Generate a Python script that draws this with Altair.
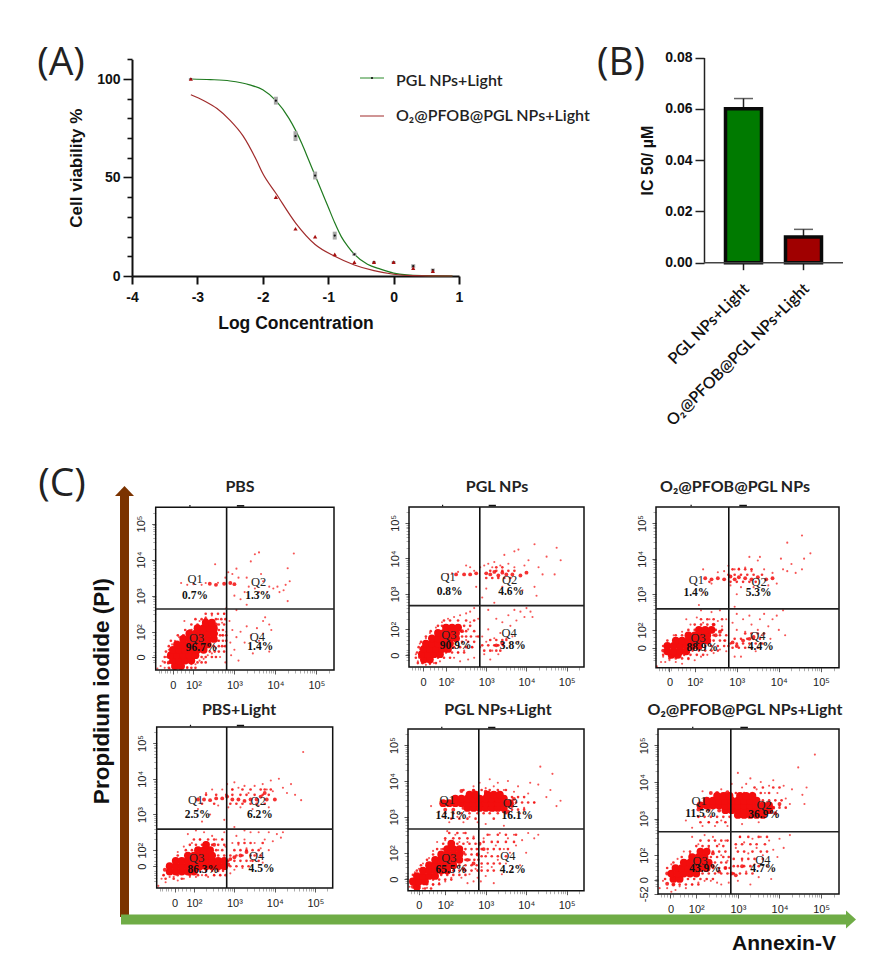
import altair as alt
import pandas as pd

W, H = 864, 955
def px(v): return v - 8

# ---------- Panel A ----------
LOG_X = [-3.1, -1.8, -1.5, -1.2, -0.9, -0.6, -0.3, 0.0, 0.3, 0.6]
GREEN_Y = [100, 89, 71, 51, 20.5, 11, 7, 7, 5, 3]
GREEN_ERR = [0.5, 2, 2.5, 2, 2, 0.8, 0.5, 0.5, 1, 0.8]
RED_Y = [100, 40, 24, 20, 11, 7, 7, 7, 4, 2.5]
GREEN_CURVE_X = [-3.1, -2.8, -2.5, -2.2, -2.0, -1.8, -1.6, -1.4, -1.3, -1.2, -1.1, -1.0, -0.9, -0.8, -0.7, -0.6, -0.4, -0.2, 0.0, 0.2, 0.5, 0.9]
GREEN_CURVE_Y = [100, 99.7, 99, 97, 94.5, 89, 80, 67, 59, 51, 43, 35, 27, 20, 15, 11, 6, 3.5, 1.5, 0.6, 0.2, 0]
RED_CURVE_X = [-3.1, -2.9, -2.7, -2.5, -2.3, -2.1, -2.0, -1.8, -1.5, -1.2, -0.9, -0.6, -0.3, 0.0, 0.3, 0.9]
RED_CURVE_Y = [92, 89, 85, 79, 71, 59, 52, 42, 27, 16, 10, 5.6, 2.7, 0.9, 0.2, 0]

# ---------- Panel B ----------
IC_CATS = ["PGL NPs+Light", "O₂@PFOB@PGL NPs+Light"]
IC_VALS = [0.06, 0.01]
IC_ERR = [0.064, 0.013]
IC_COLORS = ["#007a00", "#a00000"]

# ---------- Panel C ----------
TITLES = ["PBS", "PGL NPs", "O₂@PFOB@PGL NPs", "PBS+Light", "PGL NPs+Light", "O₂@PFOB@PGL NPs+Light"]
PCT = [["0.7%", "1.3%", "96.7%", "1.4%"], ["0.8%", "4.6%", "90.9%", "3.8%"], ["1.4%", "5.3%", "88.9%", "4.4%"],
       ["2.5%", "6.2%", "86.3%", "4.5%"], ["14.1%", "16.1%", "65.5%", "4.2%"], ["11.5%", "36.9%", "43.9%", "4.7%"]]
Q_NAMES = ["Q1", "Q2", "Q3", "Q4"]
Q_POS = [[(2.04, 3.46), (3.59, 3.37), (2.08, 1.83), (3.56, 1.86)], [(2.05, 3.48), (3.58, 3.40), (2.07, 1.85), (3.57, 1.90)],
         [(2.04, 3.40), (3.53, 3.35), (2.08, 1.78), (3.50, 1.84)], [(2.04, 3.41), (3.59, 3.39), (2.07, 1.78), (3.55, 1.85)],
         [(2.05, 3.47), (3.61, 3.40), (2.09, 1.84), (3.55, 1.91)], [(2.07, 3.47), (3.63, 3.38), (2.09, 1.85), (3.60, 1.88)]]
PCT_POS = [[(2.04, 3.00), (3.58, 3.00), (2.20, 1.56), (3.63, 1.58)], [(2.09, 3.05), (3.62, 3.05), (2.24, 1.52), (3.66, 1.52)],
           [(2.04, 3.04), (3.52, 3.04), (2.18, 1.50), (3.57, 1.53)], [(2.09, 2.98), (3.63, 2.98), (2.23, 1.45), (3.67, 1.47)],
           [(2.15, 3.03), (3.78, 3.03), (2.15, 1.52), (3.67, 1.52)], [(2.11, 3.13), (3.63, 3.11), (2.21, 1.62), (3.61, 1.63)]]
GATE_X = [2.81, 2.84, 2.81, 2.81, 2.83, 2.83]
GATE_Y = [2.63, 2.67, 2.59, 2.59, 2.66, 2.64]
ZERO_X = [1.50, 1.43, 1.40, 1.52, 1.35, 1.38]
ZERO_Y = [1.30, 1.27, 1.50, 1.55, 1.26, 1.33]
LOW_TICK = 0.945
MINOR_TICKS = [1.15, 1.22, 1.3, 1.36, 1.43, 1.6, 1.7, 1.8, 1.9, 2.3, 2.48, 2.6, 2.7, 2.78, 2.85, 2.9, 2.95,
               3.3, 3.48, 3.6, 3.7, 3.78, 3.85, 3.9, 3.95, 4.3, 4.48, 4.6, 4.7, 4.78, 4.85, 4.9, 4.95, 5.3]
TOP_MARK_START = [1.9, 3.06]
TOP_MARK_END = [1.93, 3.24]

# dense regions, row by row: (y, [x, x, ...])
CORE_ROWS = [
 [(1.05,[1.55,1.7]),(1.2,[1.5,1.65,1.8,1.95]),(1.35,[1.45,1.6,1.75,1.9,2.05]),(1.5,[1.5,1.65,1.8,1.95,2.1,2.25]),(1.65,[1.6,1.75,1.9,2.05,2.2,2.35]),(1.8,[1.75,1.9,2.05,2.2,2.35,2.5]),(1.95,[1.9,2.05,2.2,2.35,2.5]),(2.1,[2.1,2.25,2.4,2.5]),(2.25,[2.3,2.45])],
 [(1.15,[1.45,1.6]),(1.3,[1.4,1.55,1.7,1.85]),(1.45,[1.45,1.6,1.75,1.9,2.05]),(1.6,[1.5,1.65,1.8,1.95,2.1]),(1.75,[1.65,1.8,1.95,2.1,2.25]),(1.9,[1.8,1.95,2.1,2.25]),(2.05,[2.0,2.15,2.3])],
 [(1.3,[1.45,1.6]),(1.4,[1.35,1.5,1.65,1.8]),(1.55,[1.35,1.5,1.65,1.8,1.95,2.1]),(1.7,[1.55,1.7,1.85,2.0,2.15,2.3]),(1.85,[1.85,2.0,2.15,2.3]),(2.0,[2.1,2.25,2.4])],
 [(1.4,[1.4,1.55,1.7,1.85,2.0]),(1.55,[1.4,1.55,1.7,1.85,2.0,2.15,2.3,2.45,2.6,2.75]),(1.7,[1.55,1.7,1.85,2.0,2.15,2.3,2.45,2.6,2.75]),(1.85,[1.85,2.0,2.15,2.3,2.45]),(2.0,[2.1,2.25,2.4]),(2.15,[2.3])],
 [(1.05,[1.3]),(1.2,[1.2,1.35,1.5]),(1.35,[1.3,1.45,1.6,1.75]),(1.5,[1.45,1.6,1.75,1.9,2.05]),(1.65,[1.6,1.75,1.9,2.05,2.2]),(1.8,[1.75,1.9,2.05,2.2,2.35]),(1.95,[1.9,2.05,2.2,2.35]),(2.1,[2.05,2.2,2.35]),(2.25,[2.15]),
  (3.25,[2.55,2.7,2.85,3.0,3.15,3.3,3.45]),(3.38,[1.95,2.1,2.25,2.4,2.55,2.7,2.85,3.0,3.15,3.3,3.45,3.6]),(3.51,[2.25,2.4,2.55,2.7,2.85,3.0,3.15,3.3,3.45]),(3.62,[2.6,2.75,3.05,3.2,3.35])],
 [(1.35,[1.45,1.6]),(1.5,[1.4,1.55,1.7,1.85,2.0]),(1.65,[1.5,1.65,1.8,1.95,2.1,2.25]),(1.8,[1.7,1.85,2.0,2.15,2.3]),(1.95,[1.9,2.05,2.2]),(2.1,[2.1,2.25]),
  (3.1,[3.0,3.15,3.3,3.45,3.6]),(3.23,[2.7,2.85,3.0,3.15,3.3,3.45,3.6,3.75]),(3.36,[2.1,2.25,2.4,2.55,2.7,2.85,3.0,3.15,3.3,3.45,3.6,3.75]),(3.49,[2.25,2.4,2.55,2.7,2.85,3.0,3.15,3.3,3.45]),(3.62,[2.5,2.65,2.8,3.05,3.2,3.35])],
]
# medium-density halo around the dense regions, row by row
FILL_ROWS = [
 [(1.0,[1.4,1.5,1.85,1.95,2.05]),(1.15,[1.3,1.42,2.1,2.2,2.3]),(1.3,[1.3,2.2,2.3,2.45,2.55]),(1.45,[1.33,2.4,2.52,2.62,2.75]),(1.6,[1.4,2.5,2.62,2.7,2.78]),(1.75,[1.45,2.62,2.72,2.8]),(1.9,[1.62,1.75,2.65,2.72,2.8]),(2.05,[1.8,1.95,2.62,2.72]),(2.2,[1.95,2.1,2.62,2.75]),(2.35,[2.05,2.2,2.55,2.68,2.78]),(2.5,[2.3,2.45,2.6,2.75])],
 [(1.05,[1.3,1.42,1.6,1.75]),(1.2,[1.25,1.8,1.95,2.1]),(1.35,[1.28,2.0,2.15,2.3,2.45]),(1.5,[1.32,2.2,2.35,2.5,2.65]),(1.65,[1.38,2.25,2.4,2.55,2.7]),(1.8,[1.5,2.4,2.5,2.62,2.8]),(1.95,[1.62,2.38,2.5,2.7]),(2.1,[1.8,1.9,2.45,2.6]),(2.25,[1.95,2.1,2.3,2.5,2.7]),(1.4,[2.95,3.1,3.25,3.35]),(1.55,[2.9,3.05,3.2,3.3,3.42]),(1.7,[3.1,3.25,3.4,3.5]),(3.45,[3.0,3.15,3.3,3.45,3.6]),(3.65,[3.1,3.25,3.4,3.55,3.7]),(3.75,[3.25,3.4])],
 [(1.2,[1.4,1.55,1.7,1.85]),(1.3,[1.25,1.75,1.9,2.05,2.2]),(1.42,[1.95,2.1,2.25,2.4,2.55]),(1.55,[1.25,2.25,2.4,2.55,2.7,2.8]),(1.7,[1.35,2.45,2.6,2.72]),(1.85,[1.55,1.7,2.45,2.6,2.75]),(2.0,[1.85,2.0,2.5,2.65]),(2.15,[2.0,2.15,2.3,2.45]),(2.3,[2.15,2.3,2.45,2.65]),(1.5,[2.9,3.05,3.2,3.35,3.5]),(1.62,[2.85,3.0,3.15,3.3,3.45,3.6]),(1.75,[2.95,3.1,3.25,3.4,3.55]),(1.9,[3.2,3.35,3.5,3.65]),(3.35,[2.35,2.85,3.0,3.15,3.3,3.45]),(3.55,[2.8,2.95,3.1,3.25,3.4,3.6]),(3.7,[2.9,3.05,3.2,3.35])],
 [(1.2,[1.3,1.5,1.7]),(1.3,[1.25,1.6,1.9,2.1,2.3,2.5,2.65,2.78]),(1.42,[2.15,2.3,2.45,2.6,2.72]),(1.85,[1.6,2.6,2.75]),(2.0,[1.8,1.95,2.55,2.7]),(2.15,[1.9,2.05,2.2,2.45,2.6,2.75]),(2.3,[2.0,2.15,2.35,2.5,2.7]),(1.55,[2.9,3.05,3.2,3.35]),(1.7,[2.85,3.0,3.15,3.3,3.45,3.6]),(1.85,[2.9,3.05,3.2,3.4,3.5,3.65]),(2.0,[3.0,3.15,3.3,3.45,3.6]),(2.2,[3.1,3.25,3.4,3.7]),(3.3,[2.2,2.5,2.9,3.05,3.2,3.4,3.55,3.75]),(3.55,[2.3,2.55,2.8,2.95,3.15,3.3,3.5,3.7,3.85]),(3.7,[2.95,3.2,3.4,3.65,3.75,3.9])],
 [(1.0,[1.35,1.5,1.65]),(1.12,[1.55,1.7,1.85]),(1.25,[1.7,1.85,2.0,2.15]),(1.38,[1.2,1.9,2.05,2.2,2.35,2.5]),(1.5,[1.3,2.2,2.35,2.5,2.65,2.8]),(1.65,[1.4,2.35,2.5,2.65,2.78]),(1.8,[1.55,2.5,2.6,2.72,2.82]),(1.95,[1.7,2.5,2.65,2.8]),(2.1,[1.8,1.95,2.5,2.65,2.78]),(2.25,[1.95,2.3,2.45,2.6,2.75]),(2.4,[2.0,2.2,2.35,2.55,2.7]),(2.55,[2.1,2.3,2.5]),
  (1.5,[2.9,3.05,3.2]),(1.7,[2.9,3.05,3.2,3.35]),(1.9,[2.9,3.0,3.15,3.3,3.5]),(2.1,[2.9,3.05,3.2,3.35,3.55]),(2.3,[2.95,3.15,3.3,3.5,3.7]),(2.5,[3.05,3.3,3.5,3.75]),(3.1,[2.0,2.2,2.4,2.6,2.8,2.95,3.1,3.3,3.5]),(2.95,[2.15,2.35,2.55,2.75,3.2]),(3.75,[2.45,2.7,2.9,3.1,3.3,3.5]),(3.4,[3.75,3.9,4.05,4.2]),(3.55,[3.65,3.8,3.95]),(3.2,[3.65,3.8,3.95])],
 [(1.2,[1.45,1.6,1.75,1.9,2.05]),(1.35,[1.25,1.8,1.95,2.1,2.25,2.4]),(1.5,[2.15,2.3,2.45,2.6,2.75]),(1.65,[1.3,2.4,2.55,2.7,2.8]),(1.8,[1.45,2.45,2.6,2.72]),(1.95,[1.65,2.35,2.5,2.65,2.78]),(2.1,[1.85,2.4,2.55,2.7]),(2.25,[2.0,2.15,2.3,2.5,2.65]),(2.4,[2.1,2.3,2.45,2.6,2.75]),
  (1.5,[2.9,3.05,3.2,3.35]),(1.7,[2.9,3.0,3.15,3.3,3.5]),(1.9,[2.9,3.1,3.25,3.4,3.6]),(2.1,[3.0,3.15,3.35,3.55,3.7]),(2.3,[2.95,3.1,3.3,3.45,3.65]),(2.5,[3.05,3.25,3.5,3.7]),(3.05,[2.05,2.2,2.35,2.5,2.65,2.8,3.1,3.3]),(2.9,[2.1,2.3,2.5,2.7]),(3.7,[2.7,2.95,3.15,3.35,3.55,3.75]),(3.5,[3.6,3.75,3.9,4.05]),(3.3,[3.85,4.0,4.15]),(3.85,[3.4,3.6,3.85,4.0])],
]
MID = [
 [(2.4,3.33),(2.55,3.3),(2.75,3.33),(2.9,3.35),(3.0,3.32),(1.4,1.3),(1.4,1.15),(2.55,1.95),(2.55,2.2),(2.3,2.35)],
 [(2.25,3.55),(2.45,3.55),(2.6,3.55),(2.75,3.58),(3.0,3.58),(3.1,3.55),(3.2,3.62),(3.3,3.52),(3.4,3.6),(3.5,3.55),(3.65,3.55),(3.85,3.52),(4.0,3.6),(1.35,1.22),(1.38,1.45),(2.4,1.95),(3.25,1.55),(3.4,1.6)],
 [(2.25,3.45),(2.4,3.42),(2.55,3.45),(2.7,3.42),(2.85,3.5),(2.95,3.42),(3.05,3.48),(3.2,3.45),(3.35,3.42),(3.5,3.48),(3.7,3.42),(3.85,3.45),(2.9,1.65),(3.0,1.55),(3.15,1.7),(3.3,1.75),(3.4,1.8),(2.5,1.85),(2.6,1.95),(1.25,1.42),(2.45,2.15)],
 [(2.1,3.42),(2.25,3.42),(2.4,3.4),(2.55,3.45),(2.7,3.45),(2.82,3.5),(2.95,3.42),(3.1,3.42),(3.25,3.38),(3.4,3.42),(3.55,3.42),(3.65,3.5),(3.75,3.6),(3.8,3.42),(4.0,3.42),(2.9,1.75),(3.0,1.8),(3.15,1.85),(3.3,1.95),(1.28,1.45),(2.85,1.6),(2.5,2.15),(2.3,2.2)],
 [(1.2,1.05),(1.3,1.0),(2.45,2.0),(2.55,1.8),(2.7,1.7),(2.8,1.95),(2.45,1.55),(2.85,2.25),(2.95,2.1),(3.65,3.3),(3.7,3.5),(3.2,3.2),(3.45,3.15),(3.55,3.15),(2.0,3.2),(2.2,3.2),(2.45,3.25),(2.6,3.25),(2.75,3.25),(3.0,3.7),(2.4,3.72),(2.7,3.72)],
 [(1.3,1.22),(1.45,1.2),(1.3,1.5),(2.4,1.7),(2.4,2.05),(2.55,1.55),(2.7,1.65),(2.85,1.5),(2.95,1.45),(3.1,1.7),(3.85,3.3),(3.9,3.15),(4.0,3.4),(2.05,3.25),(2.3,3.25),(2.55,3.22),(2.75,3.2),(2.95,3.1),(3.55,3.12),(2.5,3.7),(2.75,3.72),(2.35,3.7),(3.2,3.62)],
]
SPARSE = [
 [(1.12,0.98),(1.2,1.05),(1.25,1.18),(1.3,1.0),(1.35,1.3),(1.38,1.12),(1.4,1.5),(1.42,0.98),(1.48,1.65),(1.5,1.02),(1.55,1.75),(1.62,0.98),(1.65,1.85),(1.7,1.0),(1.78,1.9),(1.78,2.3),(1.85,1.02),(1.9,2.05),(1.95,1.1),(2.05,2.15),(2.05,1.1),(2.15,2.3),(2.15,1.2),(2.25,1.25),(2.3,2.4),(2.35,1.35),(2.45,2.45),(2.45,1.4),(2.55,2.1),(2.55,1.55),(2.6,1.75),(2.6,2.35),(2.65,1.3),(2.7,1.9),(2.7,2.25),(2.75,1.6),(2.75,2.5),(2.78,1.15),(2.8,2.0),(2.8,2.65),
  (2.88,2.3),(2.9,1.7),(2.92,1.35),(2.95,2.05),(3.0,1.5),(3.05,1.85),(3.1,1.2),(3.15,2.0),(3.25,1.7),(3.3,2.15),(3.4,1.9),(3.45,1.4),(3.55,2.1),(3.6,1.75),(3.7,2.3),(3.7,1.95),(3.75,2.4),(3.85,1.45),(3.85,2.2),(3.9,2.05),(3.05,2.6),(3.3,2.75),
  (1.7,3.35),(1.85,3.3),(2.0,3.32),(2.2,3.3),(2.3,3.35),(2.6,3.36),(2.78,3.5),(2.85,3.65),(2.95,3.6),(3.05,3.75),(3.1,3.5),(3.25,3.1),(3.3,3.5),(3.4,3.95),(3.5,4.15),(3.6,4.2),(3.65,3.6),(3.7,3.4),(3.8,3.1),(3.85,3.25),(3.95,3.2),(4.05,3.25),(4.1,3.1),(4.2,3.15),(4.25,3.3),(4.3,2.85),(4.35,3.4),(3.0,3.0),(3.15,2.9),(3.5,3.2),(3.6,3.1),(3.35,3.25),(2.53,3.87),(4.3,3.76),(4.45,4.17)],
 [(1.3,1.1),(1.25,1.3),(1.4,1.05),(1.5,1.0),(1.6,1.02),(1.7,1.05),(1.85,1.1),(1.35,1.6),(1.5,1.75),(1.6,1.9),(1.75,2.05),(1.9,2.2),(2.05,2.3),(2.2,2.35),(2.35,2.4),(2.5,2.45),(2.6,2.5),(2.7,2.6),(2.2,1.2),(2.3,1.35),(2.45,1.4),(2.5,1.7),(2.55,2.0),(2.6,2.2),(2.65,1.5),(2.7,1.2),(2.75,1.8),(2.8,2.3),(2.35,1.1),(2.55,1.15),
  (2.85,1.5),(2.9,1.8),(2.95,1.3),(3.0,1.65),(3.05,2.0),(3.1,1.15),(3.15,1.4),(3.2,1.75),(3.25,2.3),(3.3,1.3),(3.35,1.9),(3.4,2.2),(3.5,1.75),(3.55,2.4),(3.6,2.1),(3.65,1.8),(3.7,2.55),(3.75,2.25),(3.8,1.65),(3.85,2.5),(3.95,2.35),(4.0,2.6),(4.1,2.5),(4.15,2.35),(3.05,2.55),(3.2,2.75),
  (2.05,3.55),(2.15,3.58),(2.3,3.62),(2.5,3.8),(2.6,3.75),(2.7,3.65),(2.75,3.2),(2.85,3.75),(2.95,3.8),(3.05,3.85),(3.15,3.75),(3.2,3.9),(3.35,3.8),(3.45,4.1),(3.55,3.85),(3.7,3.75),(3.7,4.2),(3.8,4.25),(3.95,3.8),(4.05,3.95),(4.2,4.4),(4.3,3.75),(4.4,3.55),(4.5,4.05),(4.75,4.3),(4.85,3.95),(4.2,3.2),(4.25,2.95),(3.9,3.1),(3.4,3.2),(3.0,3.15),(4.7,3.55),(2.9,2.9)],
 [(1.1,0.98),(1.2,1.1),(1.25,1.25),(1.3,1.1),(1.4,1.15),(1.55,1.1),(1.7,1.05),(1.85,1.18),(2.0,1.15),(2.15,1.25),(2.3,1.3),(2.45,1.35),(1.5,1.85),(1.7,1.95),(1.8,2.3),(1.9,2.15),(2.05,2.35),(2.15,2.55),(2.2,2.2),(2.35,2.3),(2.4,2.5),(2.55,2.25),(2.6,2.55),(2.65,2.1),(2.7,1.7),(2.75,1.4),(2.75,2.3),(2.6,1.45),
  (2.9,2.2),(2.95,1.25),(3.0,2.0),(3.1,1.25),(3.15,2.3),(3.2,1.95),(3.3,2.4),(3.35,2.15),(3.45,1.4),(3.5,2.0),(3.55,2.3),(3.6,1.85),(3.65,2.45),(3.75,2.1),(3.8,1.75),(3.85,2.3),(3.95,2.4),(4.0,2.0),(4.1,2.55),(4.15,1.85),(3.0,2.45),(2.95,2.65),
  (2.2,3.7),(2.4,3.3),(2.55,3.62),(2.7,3.65),(2.8,3.8),(2.85,3.25),(2.95,3.7),(3.05,3.72),(3.1,3.2),(3.2,3.75),(3.35,3.65),(3.4,3.2),(3.5,3.95),(3.55,4.05),(3.65,3.7),(3.75,3.25),(3.85,3.6),(3.95,3.3),(4.05,4.0),(4.1,3.7),(4.2,3.65),(4.3,3.85),(4.4,3.6),(4.55,3.7),(4.6,4.0),(4.75,4.15),(4.55,4.65),(4.2,4.45),(3.3,4.05),(3.0,3.0),(2.2,3.05),(2.1,2.7)],
 [(1.12,1.0),(1.2,1.2),(1.25,1.3),(1.3,1.1),(1.4,1.25),(1.5,1.25),(1.6,1.15),(1.75,1.2),(1.9,1.25),(2.05,1.25),(2.2,1.3),(2.35,1.25),(2.5,1.3),(2.65,1.3),(1.6,1.95),(1.75,2.1),(1.85,2.45),(1.95,2.2),(2.05,2.55),(2.15,2.3),(2.25,2.5),(2.35,2.2),(2.45,2.4),(2.55,2.3),(2.6,2.0),(2.7,2.3),(2.75,2.5),(2.78,2.1),
  (2.9,1.35),(2.95,2.2),(3.0,1.45),(3.05,2.4),(3.1,2.15),(3.2,1.5),(3.25,2.3),(3.3,2.05),(3.4,2.5),(3.4,1.7),(3.5,2.2),(3.55,1.9),(3.6,2.5),(3.65,2.05),(3.7,1.65),(3.75,2.3),(3.85,2.5),(3.85,2.0),(3.95,2.25),(4.05,2.45),(4.15,2.35),(4.2,2.5),(3.0,2.65),(3.25,2.55),
  (2.1,3.15),(2.3,3.6),(2.45,3.7),(2.6,3.25),(2.7,3.7),(2.82,3.85),(2.85,3.2),(2.95,3.7),(3.0,3.9),(3.1,3.75),(3.15,3.2),(3.25,3.8),(3.35,3.6),(3.45,3.15),(3.5,3.8),(3.6,3.25),(3.7,3.85),(3.8,3.7),(3.85,3.2),(3.9,3.95),(3.95,3.65),(4.1,4.0),(4.2,3.75),(4.3,3.6),(4.4,3.85),(4.5,3.55),(4.65,3.4),(4.7,4.75),(2.4,3.0),(2.75,2.85),(2.2,2.8)],
 [(1.12,1.05),(1.15,1.25),(1.25,1.45),(1.35,1.55),(1.45,1.0),(1.55,1.02),(1.7,1.1),(1.85,1.15),(2.0,1.2),(2.15,1.3),(1.45,1.7),(1.6,1.85),(1.7,2.05),(1.8,2.3),(1.9,2.1),(2.0,2.35),(2.05,2.6),(2.15,2.25),(2.25,2.5),(2.35,2.3),(2.45,2.55),(2.55,2.3),(2.6,1.4),(2.7,1.2),(2.7,2.45),(2.75,1.55),(2.8,2.1),(2.8,1.3),(2.55,1.15),(2.4,1.3),
  (2.88,1.2),(2.9,1.6),(2.95,2.4),(3.0,1.35),(3.05,2.0),(3.1,2.5),(3.15,1.6),(3.2,1.15),(3.25,2.2),(3.3,1.8),(3.35,2.55),(3.4,1.4),(3.45,2.1),(3.5,1.7),(3.55,2.4),(3.6,2.0),(3.65,1.55),(3.7,2.5),(3.75,2.2),(3.85,1.65),(3.9,2.35),(4.0,2.0),(4.05,2.55),(4.2,2.4),(4.3,2.5),(3.0,2.8),(3.45,2.75),
  (1.65,3.3),(1.85,3.15),(1.95,3.0),(2.1,2.85),(2.3,3.0),(2.45,2.85),(2.6,3.0),(2.8,2.85),(2.7,3.85),(2.85,3.95),(3.0,3.8),(3.1,4.05),(3.2,3.85),(3.3,3.95),(3.45,3.75),(3.55,4.0),(3.7,3.7),(3.8,3.85),(3.85,3.1),(3.95,3.25),(4.05,3.65),(4.1,3.95),(4.2,3.4),(4.3,3.9),(4.35,4.4),(4.5,3.55),(4.6,3.75),(4.65,4.2),(4.75,3.3),(4.85,3.45)],
 [(1.12,1.1),(1.2,1.3),(1.3,1.1),(1.4,1.0),(1.5,1.05),(1.6,1.15),(1.75,1.1),(1.9,1.2),(2.05,1.25),(2.2,1.3),(2.35,1.3),(2.5,1.25),(1.4,1.75),(1.55,1.9),(1.7,2.1),(1.85,2.05),(1.9,2.5),(2.05,2.3),(2.2,2.55),(2.3,2.2),(2.4,2.5),(2.55,2.3),(2.6,2.0),(2.7,2.4),(2.75,1.85),(2.78,1.25),(2.6,1.2),
  (2.9,1.5),(2.95,2.2),(3.0,1.3),(3.05,2.5),(3.1,1.85),(3.15,2.35),(3.2,1.55),(3.25,2.05),(3.3,1.2),(3.35,2.45),(3.4,1.75),(3.45,2.2),(3.5,1.4),(3.55,2.5),(3.6,2.0),(3.7,1.7),(3.75,2.4),(3.8,1.35),(3.85,2.15),(3.95,1.95),(4.0,2.45),(4.1,2.2),(4.25,2.55),(3.1,2.85),(3.5,2.9),
  (1.75,2.95),(1.9,2.75),(2.05,3.05),(2.15,2.8),(2.3,2.9),(2.45,2.8),(2.6,2.95),(2.75,2.8),(2.15,3.75),(2.6,3.8),(2.85,3.95),(3.0,4.25),(3.1,3.85),(3.2,3.95),(3.3,4.1),(3.45,3.8),(3.55,4.0),(3.65,3.7),(3.75,3.9),(3.85,4.05),(3.95,3.7),(4.0,3.35),(4.1,3.9),(4.15,3.55),(4.25,3.4),(4.3,3.8),(4.45,4.4),(4.55,3.65),(4.65,3.85),(4.85,4.75),(4.6,3.4)],
]
# frame of each cytometry plot in page pixels: left, right, top, bottom
FRAMES = [(155.7, 334, 507.3, 670), (409, 584, 507, 667), (656, 839, 507, 667.7),
          (156.7, 332.7, 727, 888), (408, 584, 729, 890.7), (658, 839, 729, 894)]
TITLE_POS = [(240, 487), (497, 487), (735, 487), (239, 710), (498, 710), (745, 710)]
XMIN, XMAX, YMIN, YMAX = 1.08, 5.43, 0.94, 5.45
RED = "#f30d0d"
TXT = "Liberation Sans"
CAL = "Lato"


def xy(rows):
    return pd.DataFrame(rows, columns=["x", "y"])


def expand(rows):
    return [(x, y) for y, xs in rows for x in xs]


def flow_panel(i):
    left, right, top, bottom = FRAMES[i]
    sx = alt.Scale(domain=[XMIN, XMAX], range=[px(left), px(right)], nice=False, zero=False)
    sy = alt.Scale(domain=[YMIN, YMAX], range=[px(bottom), px(top)], nice=False, zero=False)
    X = lambda f="x": alt.X(f"{f}:Q", scale=sx, axis=None)
    Y = lambda f="y": alt.Y(f"{f}:Q", scale=sy, axis=None)
    layers = []
    zx, zy = ZERO_X[i], ZERO_Y[i]
    xmaj = [zx, 2, 3, 4, 5]
    ymaj = [zy, 2, 3, 4, 5]
    low_vals = [LOW_TICK] if i == 5 else []
    x_expr = f"datum.value=={zx}?'0':datum.value==2?'10²':datum.value==3?'10³':datum.value==4?'10⁴':datum.value==5?'10⁵':''"
    y_expr = f"datum.value=={zy}?'0':datum.value==2?'10²':datum.value==3?'10³':datum.value==4?'10⁴':datum.value==5?'10⁵':datum.value=={LOW_TICK}?'-52':''"
    xmajt = "||".join(f"datum.value=={v}" for v in xmaj)
    ymajt = "||".join(f"datum.value=={v}" for v in ymaj + low_vals)
    ax_x = alt.Axis(orient="bottom", offset=px(bottom) - H, values=MINOR_TICKS + xmaj, labelExpr=x_expr, title=None,
                    domain=False, grid=False, labelFont=TXT, labelFontSize=11, labelColor="#222", labelPadding=5,
                    labelOverlap=False, labelBound=False, labelFlush=False, labelAngle=0,
                    tickColor={"condition": {"test": xmajt, "value": "#333"}, "value": "#999"},
                    tickSize={"condition": {"test": xmajt, "value": 4}, "value": 3}, tickWidth=0.8)
    ax_y = alt.Axis(orient="left", offset=-px(left), values=[v for v in MINOR_TICKS if v < 5.4] + ymaj + low_vals,
                    labelExpr=y_expr, title=None,
                    domain=False, grid=False, labelFont=TXT, labelFontSize=11, labelColor="#222", labelPadding=5,
                    labelOverlap=False, labelBound=False, labelFlush=False, labelAngle=270, labelAlign="center", labelBaseline="bottom",
                    tickColor={"condition": {"test": ymajt, "value": "#333"}, "value": "#999"},
                    tickSize={"condition": {"test": ymajt, "value": 4}, "value": 3}, tickWidth=0.8)
    frame = pd.DataFrame({"x": [XMIN], "x2": [XMAX], "y": [YMIN], "y2": [YMAX], "vx": [GATE_X[i]], "hy": [GATE_Y[i]]})
    layers.append(alt.Chart(frame).mark_rect(fillOpacity=0, strokeOpacity=0).encode(
        x=alt.X("x:Q", scale=sx, axis=ax_x), x2="x2:Q", y=alt.Y("y:Q", scale=sy, axis=ax_y), y2="y2:Q"))
    for rows, size, op in ((SPARSE[i], 4.5, 0.7), (expand(FILL_ROWS[i]), 7, 0.85), (MID[i], 15, 0.85), (expand(CORE_ROWS[i]), 60, 1.0)):
        layers.append(alt.Chart(xy(rows)).mark_circle(color=RED, size=size, opacity=op).encode(x=X(), y=Y()))
    layers.append(alt.Chart(frame).mark_rect(fillOpacity=0, stroke="#111", strokeWidth=1.5).encode(x=X(), x2="x2:Q", y=Y(), y2="y2:Q"))
    layers.append(alt.Chart(frame).mark_rule(color="#111", strokeWidth=1.6).encode(x=X("vx"), y=Y(), y2="y2:Q"))
    layers.append(alt.Chart(frame).mark_rule(color="#222", strokeWidth=1.6).encode(y=Y("hy"), x=X(), x2="x2:Q"))
    marks = pd.DataFrame({"x": TOP_MARK_START, "x2": TOP_MARK_END, "y": [YMAX + 0.04] * 2})
    layers.append(alt.Chart(marks).mark_rule(color="#111", strokeWidth=1.6).encode(x=X(), x2="x2:Q", y=Y()))
    q = pd.DataFrame({"x": [p[0] for p in Q_POS[i]], "y": [p[1] for p in Q_POS[i]], "t": Q_NAMES})
    layers.append(alt.Chart(q).mark_text(font="Liberation Serif", fontSize=12.5, color="#222").encode(x=X(), y=Y(), text="t:N"))
    p = pd.DataFrame({"x": [v[0] for v in PCT_POS[i]], "y": [v[1] for v in PCT_POS[i]], "t": PCT[i]})
    layers.append(alt.Chart(p).mark_text(font="Liberation Serif", fontSize=11.5, fontWeight="bold", color="#111").encode(x=X(), y=Y(), text="t:N"))
    return layers


def panel_a():
    sx = alt.Scale(domain=[-4, 1], range=[px(132), px(459)], nice=False, zero=False)
    sy = alt.Scale(domain=[0, 110], range=[px(276), px(59.3)], nice=False, zero=False)
    maj = "datum.value%50==0"
    ax_x = alt.Axis(orient="bottom", offset=px(276) - H, values=[-4, -3, -2, -1, 0, 1], labelExpr="''+datum.value", title="Log Concentration",
                    grid=False, domainWidth=2, domainColor="#111", tickWidth=2, tickColor="#111", tickSize=8,
                    labelFont=TXT, labelFontSize=14, labelFontWeight="bold", labelColor="#111", labelPadding=6,
                    titleFont=TXT, titleFontSize=17.5, titleFontWeight="bold", titleColor="#111", titlePadding=10, labelFlush=False)
    ax_y = alt.Axis(orient="left", offset=-px(132), values=[0, 10, 20, 30, 40, 50, 60, 70, 80, 90, 100, 110],
                    labelExpr="datum.value%50==0?datum.value:''", title="Cell viability %",
                    grid=False, domainWidth=2, domainColor="#111", tickWidth=1.6, tickColor="#111",
                    tickSize={"condition": {"test": maj, "value": 9}, "value": 5},
                    labelFont=TXT, labelFontSize=14, labelFontWeight="bold", labelColor="#111", labelPadding=3,
                    titleFont=TXT, titleFontSize=17, titleFontWeight="bold", titleColor="#111", titlePadding=11, labelOverlap=False)
    gc = pd.DataFrame({"x": GREEN_CURVE_X, "y": GREEN_CURVE_Y})
    rc = pd.DataFrame({"x": RED_CURVE_X, "y": RED_CURVE_Y})
    g = pd.DataFrame({"x": LOG_X, "y": GREEN_Y, "lo": [a - b for a, b in zip(GREEN_Y, GREEN_ERR)], "hi": [a + b for a, b in zip(GREEN_Y, GREEN_ERR)]})
    r = pd.DataFrame({"x": LOG_X, "y": RED_Y})
    X = alt.X("x:Q", scale=sx, axis=None)
    Y = alt.Y("y:Q", scale=sy, axis=None)
    return [
        alt.Chart(gc).mark_line(color="#1f7a1f", strokeWidth=1.2, interpolate="monotone").encode(x=alt.X("x:Q", scale=sx, axis=ax_x), y=alt.Y("y:Q", scale=sy, axis=ax_y)),
        alt.Chart(rc).mark_line(color="#a02b2b", strokeWidth=1.2, interpolate="monotone").encode(x=X, y=Y),
        alt.Chart(g).mark_rule(color="#a8a8a8", strokeWidth=4).encode(x=X, y=alt.Y("lo:Q", scale=sy, axis=None), y2="hi:Q"),
        alt.Chart(g).mark_circle(color="#111", size=5, opacity=1).encode(x=X, y=Y),
        alt.Chart(r).mark_point(shape="triangle-up", filled=True, color="#a81010", size=18, opacity=1).encode(x=X, y=Y),
    ]


def panel_b():
    sx = alt.Scale(domain=IC_CATS, range=[px(713.5), px(833.5)], paddingInner=0.35, paddingOuter=0.175)
    sy = alt.Scale(domain=[0, 0.08], range=[px(262.7), px(57.5)], nice=False, zero=False)
    df = pd.DataFrame({"c": IC_CATS, "v": IC_VALS, "e": IC_ERR, "f": IC_COLORS})
    ax_x = alt.Axis(orient="bottom", offset=px(262.7) - H, title=None, domain=False, grid=False, labelAngle=-45, labelAlign="right", labelBaseline="middle",
                    tickColor="#222", tickWidth=1.5, tickSize=7, labelFont=CAL, labelFontSize=16, labelFontWeight=600,
                    labelColor="#111", labelPadding=16, labelOffset=3, labelLimit=300, labelOverlap=False, labelBound=False)
    ax_y = alt.Axis(orient="left", offset=-px(704), values=[0, 0.02, 0.04, 0.06, 0.08], format=".2f", title="IC 50/ µM", grid=False,
                    domainWidth=1.5, domainColor="#222", tickWidth=1.5, tickColor="#222", tickSize=9,
                    labelFont=TXT, labelFontSize=14, labelFontWeight="bold", labelColor="#111", labelPadding=3,
                    titleFont=TXT, titleFontSize=16, titleFontWeight="bold", titleColor="#111", titlePadding=9)
    base_y = alt.Y("v:Q", scale=sy, axis=None)
    X = alt.X("c:N", scale=sx, axis=None, sort=IC_CATS)
    return [
        alt.Chart(df).mark_rule(color="#222", strokeWidth=1.5).encode(x=X, y=base_y, y2="e:Q"),
        alt.Chart(df).mark_tick(color="#222", thickness=1.5, size=19, orient="horizontal").encode(x=X, y=alt.Y("e:Q", scale=sy, axis=None)),
        alt.Chart(df).mark_bar(stroke="#0a0a0a", strokeWidth=3.5, size=36).encode(
            x=alt.X("c:N", scale=sx, axis=ax_x, sort=IC_CATS), y=alt.Y("v:Q", scale=sy, axis=ax_y), y2=alt.Y2(datum=0),
            fill=alt.Fill("f:N", scale=None)),
        alt.Chart(pd.DataFrame({"v": [0]})).mark_rule(color="#444", strokeWidth=1.5).encode(
            y=base_y, x=alt.value(px(704)), x2=alt.value(px(843))),
    ]


ONE = pd.DataFrame({"a": [0]})


def label(text, x, y, **kw):
    return alt.Chart(ONE).mark_text(text=text, align=kw.pop("align", "center"), baseline="middle", **kw).encode(
        x=alt.value(px(x)), y=alt.value(px(y)))


def annotations():
    layers = []
    for t, x, y in (("(A)", 61, 63), ("(B)", 621, 63), ("(C)", 62, 484)):
        layers.append(label(t, x, y, font="Open Sans", fontSize=39, color="#222"))
    for t, (x, y) in zip(TITLES, TITLE_POS):
        layers.append(label(t, x, y, font=CAL, fontSize=16, fontWeight="bold", color="#222"))
    # legend of panel A
    layers.append(alt.Chart(ONE).mark_rule(color="#2b8a2b", strokeWidth=1).encode(x=alt.value(px(360)), x2=alt.value(px(384)), y=alt.value(px(78))))
    layers.append(alt.Chart(ONE).mark_circle(color="#111", size=5, opacity=1).encode(x=alt.value(px(372)), y=alt.value(px(78))))
    layers.append(alt.Chart(ONE).mark_rule(color="#a02b2b", strokeWidth=1).encode(x=alt.value(px(360)), x2=alt.value(px(384)), y=alt.value(px(116))))
    layers.append(label("PGL NPs+Light", 396, 81, align="left", font=CAL, fontSize=16, fontWeight=600, color="#222"))
    layers.append(label("O₂@PFOB@PGL NPs+Light", 396, 116, align="left", font=CAL, fontSize=16, fontWeight=600, color="#222"))
    # axes of panel C
    layers.append(alt.Chart(ONE).mark_rule(color="#7b3300", strokeWidth=9).encode(x=alt.value(px(124.5)), y=alt.value(px(496)), y2=alt.value(px(917))))
    layers.append(alt.Chart(ONE).mark_point(shape="M-1.9,1L1.9,1L0,-1Z", filled=True, color="#7b3300", size=100, opacity=1).encode(x=alt.value(px(124.5)), y=alt.value(px(491))))
    layers.append(alt.Chart(ONE).mark_rule(color="#6fac46", strokeWidth=10).encode(x=alt.value(px(121)), x2=alt.value(px(847)), y=alt.value(px(919.5))))
    layers.append(alt.Chart(ONE).mark_point(shape="M-1,-1.8L1,0L-1,1.8Z", filled=True, color="#6fac46", size=100, opacity=1).encode(x=alt.value(px(851)), y=alt.value(px(919.5))))
    layers.append(label("Propidium iodide (PI)", 102, 691, font=TXT, fontSize=22.5, fontWeight="bold", color="#111", angle=270))
    layers.append(label("Annexin-V", 784, 944, font=TXT, fontSize=21, fontWeight="bold", color="#111"))
    return layers


all_layers = panel_a() + panel_b()
for i in range(6):
    all_layers += flow_panel(i)
all_layers += annotations()

chart = alt.layer(*all_layers).resolve_scale(
    x="independent", y="independent"
).properties(width=W, height=H, padding=0, autosize="none", background="white").configure_view(stroke=None)

chart.save("out.html", embed_options={"renderer": "svg", "actions": False})
